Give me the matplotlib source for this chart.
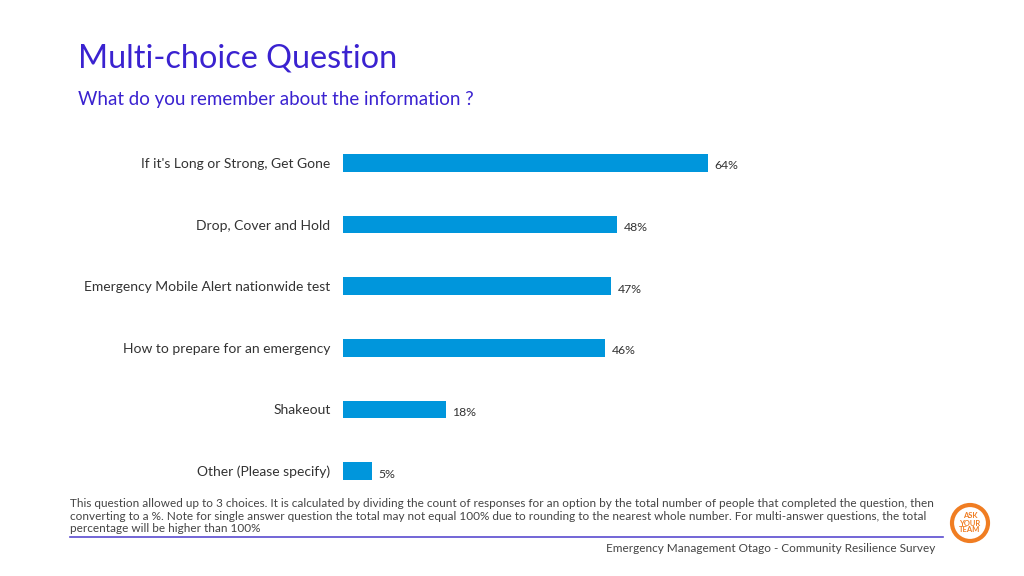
import matplotlib
matplotlib.use("Agg")
import matplotlib.pyplot as plt
from matplotlib.patches import Ellipse

categories = [
    "If it's Long or Strong, Get Gone",
    "Drop, Cover and Hold",
    "Emergency Mobile Alert nationwide test",
    "How to prepare for an emergency",
    "Shakeout",
    "Other (Please specify)",
]
values = [64, 48, 47, 46, 18, 5]
value_labels = ["64%", "48%", "47%", "46%", "18%", "5%"]

title = "Multi-choice Question"
subtitle = "What do you remember about the information ?"
footnote = ("This question allowed up to 3 choices. It is calculated by dividing the count of responses for an option by the total number of people that completed the question, then\n"
            "converting to a %. Note for single answer question the total may not equal 100% due to rounding to the nearest whole number. For multi-answer questions, the total\n"
            "percentage will be higher than 100%")
footer = "Emergency Management Otago - Community Resilience Survey"

W, H = 1024, 576
fig = plt.figure(figsize=(W / 100, H / 100), dpi=100)
plt.rcParams['font.family'] = ['Lato', 'DejaVu Sans']

# axes: left x=343, 100% -> 570 px; y from 132 to 502
ax_left, ax_width = 343, 570
ax_top, ax_bottom = 132, 502
ax = fig.add_axes([ax_left / W, 1 - ax_bottom / H, ax_width / W, (ax_bottom - ax_top) / H])
ypos = list(range(len(categories)))
ax.barh(ypos, values, height=0.29, color="#0096dc")
ax.set_xlim(0, 100)
ax.set_ylim(len(categories) - 0.5, -0.5)
for s in ax.spines.values():
    s.set_visible(False)
ax.set_xticks([])
ax.set_yticks(ypos)
ax.set_yticklabels(categories, fontsize=10, color="#333333")
ax.tick_params(axis="y", length=0, pad=9)
for y, v, lab in zip(ypos, values, value_labels):
    ax.text(v + 1.2, y + 0.05, lab, va="center", ha="left", fontsize=8.8, color="#333333")

blue = "#3a22d0"
fig.text(78 / W, 1 - 59 / H, title, fontsize=23.3, color=blue, va="center", ha="left")
fig.text(78 / W, 1 - 100 / H, subtitle, fontsize=13.5, color=blue, va="center", ha="left")
fig.text(70 / W, 1 - 498 / H, footnote, fontsize=8.5, color="#444444", va="top", ha="left", linespacing=1.17)
fig.add_artist(plt.Line2D([70 / W, 943 / W], [1 - 537 / H, 1 - 537 / H], color="#5a4bd0", lw=1.2))
fig.text(935 / W, 1 - 548 / H, footer, fontsize=8.5, color="#444444", va="center", ha="right")

# logo
orange = "#f07d22"
fig.add_artist(Ellipse((970 / W, 1 - 523 / H), 36 / W, 36 / H, transform=fig.transFigure, fill=False,
                       edgecolor=orange, lw=3))
fig.text(970 / W, 1 - 523 / H, "ASK\nYOUR\nTEAM", fontsize=5.5, color=orange, fontweight="bold",
         ha="center", va="center", linespacing=1.0)

fig.savefig("out.png", dpi=100)
